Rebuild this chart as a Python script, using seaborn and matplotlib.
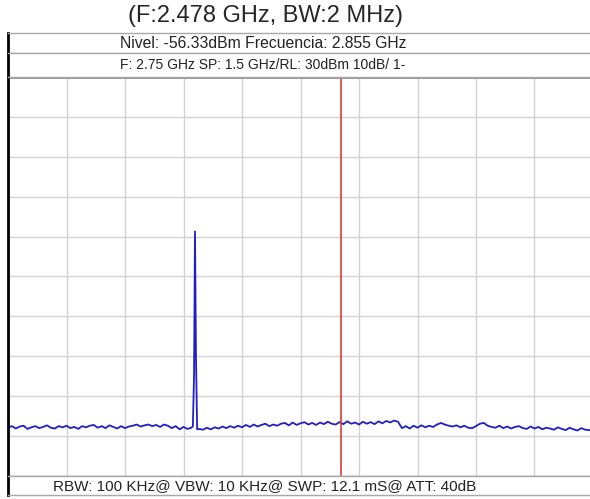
import numpy as np
import pandas as pd
import matplotlib.pyplot as plt
import seaborn as sns

# Texts of the analyzer screen
title = "(F:2.478 GHz, BW:2 MHz)"
header_top = "Nivel: -56.33dBm Frecuencia: 2.855 GHz"
header_bottom = "F: 2.75 GHz SP: 1.5 GHz/RL: 30dBm 10dB/ 1-"
footer = "RBW: 100 KHz@ VBW: 10 KHz@ SWP: 12.1 mS@ ATT: 40dB"

# Sweep settings
center_ghz = 2.75
span_ghz = 1.5
ref_level = 30
db_per_div = 10
marker_ghz = 2.855

start_below = 2.00   # 2.00 .. 2.47 GHz
level_below = [
    -57.9, -57.5, -58.1, -57.6, -57.4, -58.2, -57.8, -57.5, -58.0, -57.7,
    -57.3, -57.9, -58.1, -57.5, -57.8, -57.4, -58.0, -57.7, -58.2, -57.5,
    -57.8, -57.4, -57.2, -57.9, -57.5, -58.0, -57.3, -57.7, -58.1, -57.5,
    -58.0, -57.6, -57.4, -57.1, -57.6, -57.3, -57.1, -57.5, -57.2, -57.7,
    -57.1, -57.4, -58.0, -57.5, -58.3, -57.7, -58.2, -57.9,
]
# the carrier
peak_freq = [2.474, 2.477, 2.4795, 2.482, 2.485]
peak_level = [-57.6, -45.0, -8.7, -40.0, -58.3]

start_above = 2.49   # 2.49 .. 3.50 GHz
level_above = [
    -58.2, -58.4, -57.9, -58.3, -57.8, -58.1, -57.6, -58.0, -57.5, -57.9,
    -57.4, -57.8, -57.2, -57.7, -57.1, -57.6, -57.2, -56.9, -57.5, -57.1,
    -57.4, -56.9, -56.7, -57.3, -56.6, -57.2, -56.8, -56.5, -57.1, -56.7,
    -57.2, -56.6, -57.0, -56.4, -56.9, -57.1, -56.5, -57.0, -56.3, -56.9,
    -56.6, -57.1, -56.4, -56.9, -56.5, -57.0, -56.3, -56.8, -56.2, -56.6,
    -56.1, -56.4, -58.0, -57.5, -58.1, -57.4, -57.9, -57.3, -57.8, -57.4,
    -57.7, -57.1, -56.7, -57.1, -57.4, -57.6, -57.3, -57.8, -57.4, -57.9,
    -58.0, -57.5, -56.9, -56.7, -57.4, -57.7, -57.9, -57.4, -58.0, -57.6,
    -58.1, -57.7, -57.5, -58.0, -58.2, -57.6, -58.1, -57.7, -58.3, -57.9,
    -58.1, -58.4, -57.8, -58.2, -58.5, -57.9, -58.3, -58.6, -58.0, -58.4,
    -58.5, -58.7,
]

freq_below = start_below + 0.01 * np.arange(len(level_below))
freq_above = start_above + 0.01 * np.arange(len(level_above))
df = pd.DataFrame({
    "freq": np.concatenate([freq_below, peak_freq, freq_above]),
    "level": level_below + peak_level + level_above,
}).sort_values("freq")

sns.set_style("white")
plt.rcParams["font.family"] = ["Liberation Sans", "DejaVu Sans"]

W, H = 590, 499
fig = plt.figure(figsize=(W / 100, H / 100), dpi=100)


def box(y_top, y_bot):
    # pixel rows -> figure axes
    a = fig.add_axes([8 / W, 1 - y_bot / H, 585 / W, (y_bot - y_top) / H])
    a.set_xticks([])
    a.set_yticks([])
    for s in a.spines.values():
        s.set_color("#a8a8a8")
        s.set_linewidth(1)
    a.spines["left"].set_color("black")
    a.spines["left"].set_linewidth(2)
    return a


# main trace area
ax = box(77, 476)
sns.lineplot(data=df, x="freq", y="level", ax=ax, color="#1f1fc8",
             linewidth=1.3, sort=False)
ax.axvline(marker_ghz, color="#e03a3a", linewidth=1.2)

f0 = center_ghz - span_ghz / 2
f1 = center_ghz + span_ghz / 2
ax.set_xlim(f0, f1)
ax.set_ylim(ref_level - 10 * db_per_div, ref_level)
ax.set_xticks(np.linspace(f0, f1, 11))
ax.set_yticks(np.arange(ref_level - 10 * db_per_div, ref_level + 1, db_per_div))
ax.tick_params(length=0, labelbottom=False, labelleft=False)
ax.grid(True, color="#d2d2d2", linewidth=1)
ax.set_xlabel("")
ax.set_ylabel("")
ax.spines["top"].set_color("#8c8c8c")
ax.spines["top"].set_linewidth(2)

# header and footer boxes (text centred a bit left of the box centre)
box(33, 53)
fig.text(263 / W, 1 - 43 / H, header_top, ha="center", va="center",
         fontsize=11.3, color="#222222")
box(53, 77)
fig.text(263 / W, 1 - 65 / H, header_bottom, ha="center", va="center",
         fontsize=10, color="#222222")
box(476, 495)
fig.text(265 / W, 1 - 486 / H, footer, ha="center", va="center",
         fontsize=11, color="#222222")

fig.text(266 / W, 1 - 16 / H, title, ha="center", va="center", fontsize=17)

fig.savefig("out.png", dpi=100)
